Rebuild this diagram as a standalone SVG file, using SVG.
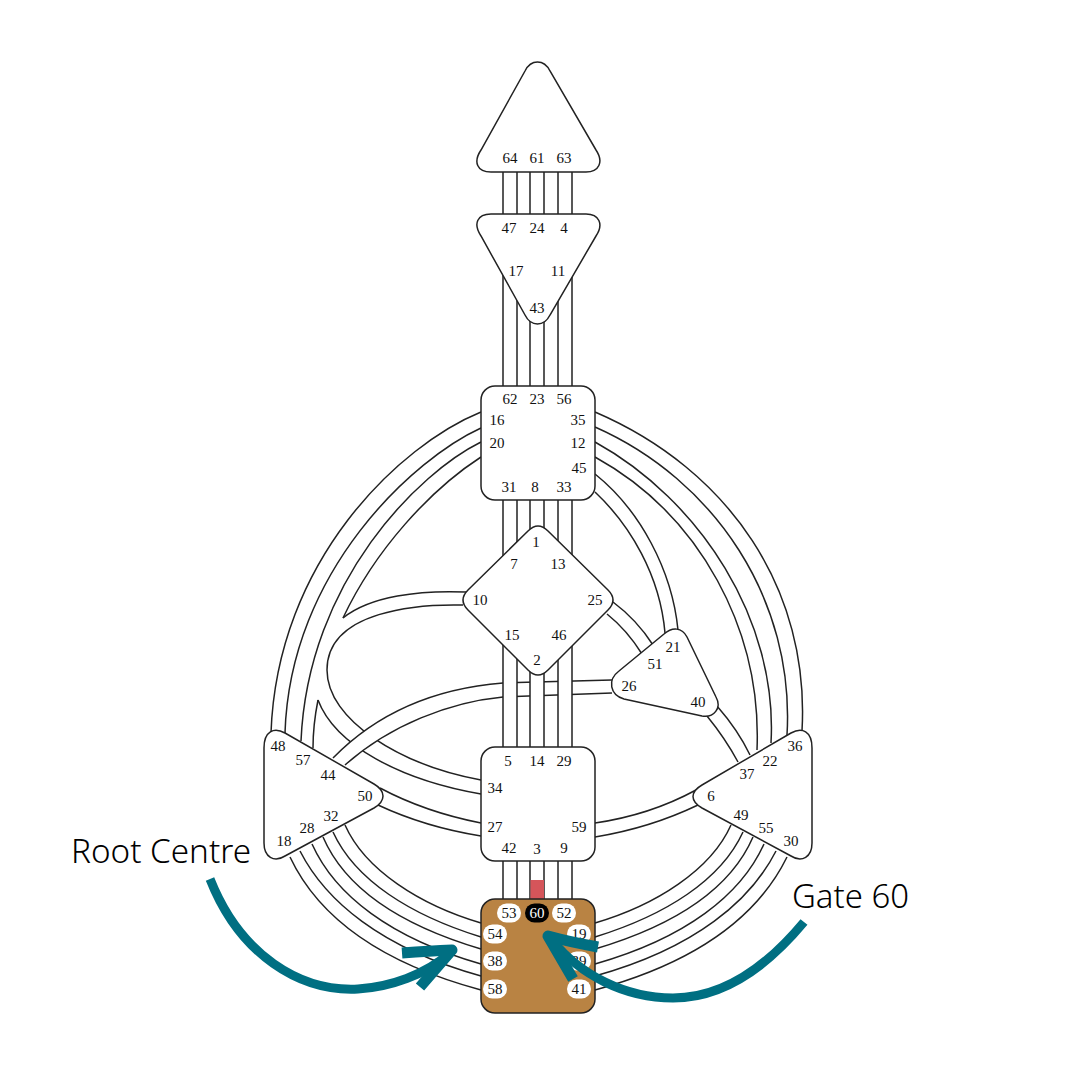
<svg xmlns="http://www.w3.org/2000/svg" width="1080" height="1080" viewBox="0 0 1080 1080">
<style>
.c{fill:#fff;stroke:#222;stroke-width:1.5}
.l{fill:none;stroke:#222;stroke-width:1.5}
.w{fill:#fff;stroke:none}
text.n{font-family:"Liberation Serif","Times New Roman",serif;font-size:15px;fill:#111;text-anchor:middle}
.a{font-family:"Noto Sans","Open Sans",sans-serif;font-size:32.5px;font-weight:300;fill:#000}
.arrow{fill:none;stroke:#006f82;stroke-width:9}
.head{fill:none;stroke:#006f82;stroke-width:11;stroke-linejoin:round}
</style>
<rect width="1080" height="1080" fill="#fff"/>
<g id="connectors">
<path class="l" d="M481,412C400,445 277,560 271,733M481,428C415,458 290,570 285,733M481,442C420,472 308,580 301,741"/>
<path class="l" d="M481,457C430,490 375,550 343,618M318,700Q313,725 313,748"/>
<path class="l" d="M466,592C420,590 370,596 343,618M463,605C420,604 327,610 327,670C327,720 400,765 481,780M318,700C335,745 400,780 481,794"/>
<path class="l" d="M380,788Q425,812 481,823M378,805Q425,827 481,836M595,823Q650,815 696,790M595,837Q650,828 698,805"/>
<path class="l" d="M595,412C730,470 810,590 802,731M595,427C715,480 795,600 787,735M595,442C700,500 778,620 771,743M595,457C700,515 762,630 757,750"/>
<path class="l" d="M595,474C640,510 672,570 678,630M595,492C630,525 660,575 665,633M613,602Q637,620 653,645M607,614Q627,630 642,654M717,706Q738,730 750,755M707,716Q725,738 738,762"/>
<path class="l" d="M345,825C365,870 420,905 481,923M333,832C355,880 410,915 481,937M323,837C345,888 400,925 481,949M312,844C335,895 390,938 481,964M300,851C325,900 380,948 481,976M290,857C315,910 370,960 481,990"/>
<path class="l" d="M731,825C711,870 656,905 595,923M743,832C721,880 666,915 595,937M753,837C731,888 676,925 595,949M764,844C741,895 686,938 595,964M776,851C751,900 696,948 595,976M787,857C761,910 706,960 595,990"/>
<path class="w" d="M333,758C380,710 440,688 503,683L612,680L612,693L503,697C450,702 390,725 345,765Z"/>
<path class="l" d="M333,758C380,710 440,688 503,683L612,680M345,765C390,725 450,702 503,697L612,693"/>
<rect class="w" x="503" y="500" width="14" height="247"/>
<rect class="w" x="530" y="500" width="14" height="247"/>
<rect class="w" x="558" y="500" width="14" height="247"/>
<path class="l" d="M503,172V386M517,172V386M530,172V386M544,172V386M558,172V386M572,172V386M503,500V747M517,500V747M530,500V747M544,500V747M558,500V747M572,500V747M503,861V899M517,861V899M530,861V899M544,861V899M558,861V899M572,861V899"/>
<rect x="530.5" y="880" width="13.5" height="19" fill="#d5555a"/>
</g>
<g id="head-centre"><path class="c" d="M525,71C531,59 544,59 550,71L596,150C604,162 599,172 586,172L491,172C477,172 473,162 481,150Z"/>
<text class="n" x="510" y="163">64</text><text class="n" x="537" y="163">61</text><text class="n" x="564" y="163">63</text></g>
<g id="ajna"><path class="c" d="M491,214L586,214C599,214 604,224 596,236L550,315C544,327 531,327 525,315L481,236C473,224 477,214 491,214Z"/>
<text class="n" x="509" y="233">47</text><text class="n" x="537" y="233">24</text><text class="n" x="564" y="233">4</text><text class="n" x="516" y="276">17</text><text class="n" x="558" y="276">11</text><text class="n" x="537" y="313">43</text></g>
<g id="throat"><rect class="c" x="481" y="386" width="114" height="114" rx="14"/>
<text class="n" x="510" y="404">62</text><text class="n" x="537" y="404">23</text><text class="n" x="564" y="404">56</text><text class="n" x="497" y="425">16</text><text class="n" x="497" y="448">20</text><text class="n" x="578" y="425">35</text><text class="n" x="578" y="448">12</text><text class="n" x="579" y="473">45</text><text class="n" x="509" y="492">31</text><text class="n" x="535" y="492">8</text><text class="n" x="564" y="492">33</text></g>
<g id="g-centre"><path class="c" d="M528,531Q538,521 548,531L608,590Q618,600 608,610L548,670Q538,680 528,670L468,610Q458,600 468,590Z"/>
<text class="n" x="536" y="547">1</text><text class="n" x="514" y="569">7</text><text class="n" x="558" y="569">13</text><text class="n" x="480" y="605">10</text><text class="n" x="595" y="605">25</text><text class="n" x="512" y="640">15</text><text class="n" x="559" y="640">46</text><text class="n" x="537" y="665">2</text></g>
<g id="ego"><path class="c" d="M664,634C672,627 682,627 687,637L716,697C722,708 714,718 702,716L624,699C610,695 607,680 619,671Z"/>
<text class="n" x="673" y="652">21</text><text class="n" x="655" y="669">51</text><text class="n" x="629" y="691">26</text><text class="n" x="698" y="707">40</text></g>
<g id="spleen"><path class="c" d="M264,748C264,731 274,727 285,733L374,784C386,791 386,801 374,808L285,856C274,863 264,857 264,843Z"/>
<text class="n" x="278" y="751">48</text><text class="n" x="303" y="765">57</text><text class="n" x="328" y="780">44</text><text class="n" x="365" y="801">50</text><text class="n" x="331" y="821">32</text><text class="n" x="307" y="833">28</text><text class="n" x="284" y="846">18</text></g>
<g id="solar-plexus"><path class="c" d="M812,748C812,731 802,727 791,733L702,785C690,792 690,801 702,808L791,856C802,863 812,857 812,843Z"/>
<text class="n" x="795" y="751">36</text><text class="n" x="770" y="766">22</text><text class="n" x="747" y="779">37</text><text class="n" x="711" y="801">6</text><text class="n" x="741" y="820">49</text><text class="n" x="766" y="833">55</text><text class="n" x="791" y="846">30</text></g>
<g id="sacral"><rect class="c" x="481" y="747" width="114" height="114" rx="14"/>
<text class="n" x="508" y="766">5</text><text class="n" x="537" y="766">14</text><text class="n" x="564" y="766">29</text><text class="n" x="495" y="793">34</text><text class="n" x="495" y="832">27</text><text class="n" x="579" y="832">59</text><text class="n" x="509" y="853">42</text><text class="n" x="537" y="854">3</text><text class="n" x="564" y="853">9</text></g>
<g id="root"><rect x="481" y="899" width="114" height="114" rx="14" fill="#b98343" stroke="#222" stroke-width="1.5"/>
<g fill="#fff"><rect x="497" y="903.5" width="24" height="19" rx="9.5"/><rect x="552" y="903.5" width="24" height="19" rx="9.5"/><rect x="483" y="924.5" width="24" height="19" rx="9.5"/><rect x="483" y="951.5" width="24" height="19" rx="9.5"/><rect x="483" y="979.5" width="24" height="19" rx="9.5"/><rect x="567" y="924.5" width="24" height="19" rx="9.5"/><rect x="567" y="951.5" width="24" height="19" rx="9.5"/><rect x="567" y="979.5" width="24" height="19" rx="9.5"/></g>
<rect x="525" y="903.5" width="24" height="19" rx="9.5" fill="#000"/>
<text class="n" x="509" y="918">53</text><text class="n" x="537" y="918" style="fill:#fff">60</text><text class="n" x="564" y="918">52</text><text class="n" x="495" y="939">54</text><text class="n" x="495" y="966">38</text><text class="n" x="495" y="994">58</text><text class="n" x="579" y="939">19</text><text class="n" x="579" y="966">39</text><text class="n" x="579" y="994">41</text></g>
<g id="root-label"><text class="a" x="71" y="863" textLength="180" lengthAdjust="spacingAndGlyphs">Root Centre</text>
<path class="arrow" d="M210,879C240,955 300,992 358,989C390,987 425,975 450,953"/>
<path class="head" d="M402,953Q430,951 452,950L420,987"/></g>
<g id="gate-label"><text class="a" x="792" y="908" textLength="117" lengthAdjust="spacingAndGlyphs">Gate 60</text>
<path class="arrow" d="M804,922C760,975 715,998 673,998C625,998 580,975 552,940"/>
<path class="head" d="M598,947Q570,942 548,936L573,979"/></g>
</svg>
